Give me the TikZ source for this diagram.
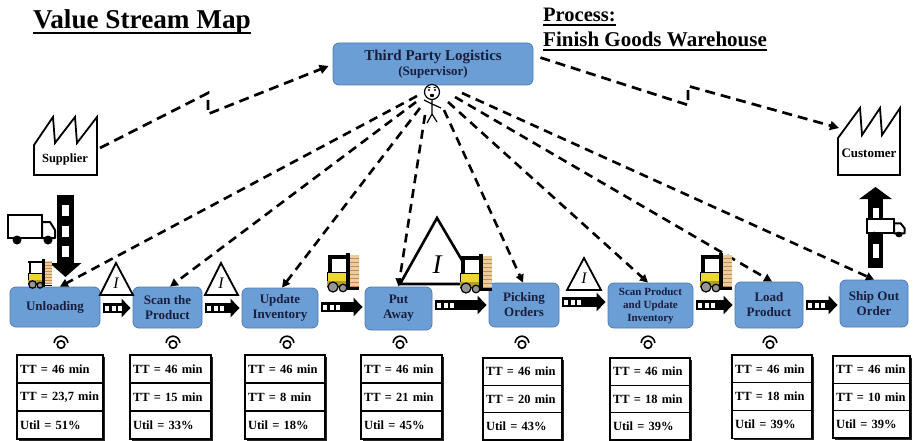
\documentclass[tikz,border=0pt]{standalone}
\usepackage{fontspec}
\setmainfont{Liberation Serif}
\usetikzlibrary{arrows.meta,calc}

\definecolor{procfill}{RGB}{108,158,214}
\definecolor{procedge}{RGB}{80,122,178}
\definecolor{navy}{RGB}{24,30,60}
\definecolor{forkyellow}{RGB}{238,214,48}
\definecolor{palletwood}{RGB}{236,205,160}
\definecolor{palletline}{RGB}{196,140,84}
\definecolor{wheelgray}{RGB}{150,150,150}

\tikzset{
  proc/.style={draw=procedge, line width=0.8pt, fill=procfill, rounded corners=6pt,
    align=center, text=navy, inner sep=0pt, font=\bfseries\fontsize{13}{15}\selectfont},
  info/.style={line width=2.6pt, dash pattern=on 9pt off 6pt,
    -{Triangle[length=8pt,width=8pt]}},
  infolink/.style={line width=2.7pt, dash pattern=on 10pt off 6pt,
    -{Triangle[length=9pt,width=9pt]}},
  pushbody/.style={line width=10pt, -{Triangle[length=9pt,width=18pt]}},
  pushsq/.style={white, line width=5pt, dash pattern=on 4pt off 2.5pt},
  datarow/.style={draw, line width=1.2pt, fill=white, inner xsep=3pt, inner ysep=0pt,
    outer sep=0pt, align=left, font=\bfseries\fontsize{12.5}{14}\selectfont},
  inv/.style={draw, line width=1.8pt, fill=white, line join=miter},
  invmark/.style={inner sep=0pt, font=\itshape\fontsize{16}{16}\selectfont},
  factory/.style={draw, line width=1.8pt, fill=white, line join=miter},
  operator/.style={line width=1.6pt},
  ul/.style={line width=1.6pt},
  forklift/.pic={
    \fill[palletwood] (22,2) rectangle (32,33);
    \foreach \k in {5,9,...,33} \draw[palletline, line width=0.7pt] (22,\k) -- (32,\k);
    \fill[black] (19,0) rectangle (22.5,37);
    \fill[black] (19,34) rectangle (32,36.5);
    \fill[black] (0.5,2) rectangle (20,5.5);
    \fill[black] (1,2) rectangle (4.5,21);
    \fill[white] (4.5,5.5) rectangle (19,19);
    \draw[black, line width=0.8pt, fill=forkyellow] (0,19) rectangle (19,33);
    \fill[forkyellow!75!black] (0.4,28) rectangle (18.6,32.6);
    \draw[line width=1.2pt, fill=wheelgray] (6,34) circle (5pt);
    \draw[line width=1.2pt, fill=wheelgray] (16,35) circle (3.8pt);
  },
  truck/.pic={
    \draw[fill=white, line width=2pt] (0,0) rectangle (34,23);
    \draw[fill=white, line width=2pt, line join=round]
      (34,7) -- (42,7) -- (47,15) -- (47,23) -- (34,23) -- cycle;
    \fill[black] (9,25) circle (4.5pt);
    \fill[black] (40,25) circle (4.5pt);
  },
}

% push arrow between two process boxes: from node #1 to node #2, vertical offset #3
\newcommand\pusharrow[3]{%
  \path ([shift={(3,#3)}]#1.east) coordinate (pa);
  \path (pa -| #2.west) coordinate (pb);
  \draw[pushbody] (pa) -- ([xshift=-2pt]pb);
  \draw[pushsq] ([xshift=2pt]pa) -- ++(17,0);
}

% data box: name, left, top, width, row height, three rows
\newcommand\databox[8]{%
  \fill[black!85] (#2+2.2,#3+2.2) rectangle (#2+#4+2.2,#3+3*#5+2.2);
  \node[datarow, anchor=north west, minimum width=#4pt, minimum height=#5pt,
        text width=#4pt-6pt] (#1a) at (#2,#3) {#6};
  \node[datarow, anchor=north west, minimum width=#4pt, minimum height=#5pt,
        text width=#4pt-6pt] (#1b) at (#1a.south west) {#7};
  \node[datarow, anchor=north west, minimum width=#4pt, minimum height=#5pt,
        text width=#4pt-6pt] (#1c) at (#1b.south west) {#8};
}

\begin{document}
\begin{tikzpicture}[x=1pt,y=-1pt]
\path[use as bounding box, fill=white] (0,0) rectangle (913,441);

% ---- headings ----
\node[anchor=base west, inner sep=0pt, font=\bfseries\fontsize{27.2}{30}\selectfont]
  (title) at (33,29) {Value Stream Map};
\draw[ul] (33,33) -- (title.east |- 0,33);
\node[anchor=base west, inner sep=0pt, font=\bfseries\fontsize{20.5}{24}\selectfont]
  (proclbl) at (543,22) {Process:};
\draw[ul] (543,25) -- (proclbl.east |- 0,25);
\node[anchor=base west, inner sep=0pt, font=\bfseries\fontsize{21}{24}\selectfont]
  (whlbl) at (543,47) {Finish Goods Warehouse};
\draw[ul] (543,50) -- (whlbl.east |- 0,50);

% ---- supervisor ----
\node[proc, minimum width=200pt, minimum height=42pt,
      font=\bfseries\fontsize{15}{15}\selectfont] (sup) at (433,64)
  {Third Party Logistics\\{\fontsize{13}{14}\selectfont (Supervisor)}};

% ---- process boxes ----
\node[proc, minimum width=90pt, minimum height=40pt] (p1) at (55,307) {Unloading};
\node[proc, minimum width=69pt, minimum height=41pt] (p2) at (167.5,307.5) {Scan the\\Product};
\node[proc, minimum width=76pt, minimum height=40pt] (p3) at (280,308) {Update\\Inventory};
\node[proc, minimum width=67pt, minimum height=43pt] (p4) at (398.5,308.5) {Put\\Away};
\node[proc, minimum width=70pt, minimum height=44pt] (p5) at (524,305) {Picking\\Orders};
\node[proc, minimum width=85pt, minimum height=45pt,
      font=\bfseries\fontsize{11}{13}\selectfont] (p6) at (650.5,305.5)
  {Scan Product\\and Update\\Inventory};
\node[proc, minimum width=68pt, minimum height=46pt] (p7) at (769,305) {Load\\Product};
\node[proc, minimum width=68pt, minimum height=47pt] (p8) at (874,303.5) {Ship Out\\Order};

% ---- supplier and customer ----
\draw[factory] (34,175) -- (34,145) -- (53,117) -- (55,143) -- (75,117) -- (77,143)
  -- (97,117) -- (97,175) -- cycle;
\node[inner sep=0pt, font=\bfseries\fontsize{12.5}{14}\selectfont] (supplier) at (65,159) {Supplier};
\coordinate (suproof) at (100,148);

\draw[factory] (838,175) -- (838,138) -- (860,108) -- (862,135) -- (880,108) -- (882,135)
  -- (900,108) -- (900,175) -- cycle;
\node[inner sep=0pt, font=\bfseries\fontsize{13}{14}\selectfont] (customer) at (869,153) {Customer};
\coordinate (custroof) at (839,128);

% ---- electronic information flows ----
\coordinate (bolt1) at (208,93);
\coordinate (bolt2) at (208,114);
\draw[infolink] (suproof) -- (bolt1) -- (bolt2) -- ([shift={(-4,2)}]sup.west);
\coordinate (bolt3) at (688,105);
\coordinate (bolt4) at (688,86);
\draw[infolink] ([shift={(7,15)}]sup.north east) -- (bolt3) -- (bolt4) -- (custroof);

% ---- supervisor instructions to each process ----
\coordinate (s1) at (417,96);
\coordinate (s2) at (416,102);
\coordinate (s3) at (420,108);
\coordinate (s4) at (425,115);
\coordinate (s5) at (444,110);
\coordinate (s6) at (448,102);
\coordinate (s7) at (455,97);
\coordinate (s8) at (462,93);
\draw[info] (s1) -- ([xshift=5pt]p1.north);
\draw[info] (s2) -- ([xshift=2.5pt]p2.north);
\draw[info] (s3) -- ([xshift=2pt]p3.north);
\draw[info] (s4) -- (p4.north);
\draw[info] (s5) -- ([xshift=-1pt]p5.north);
\draw[info] (s6) -- ([xshift=-2.5pt]p6.north);
\draw[info] (s7) -- ([xshift=3pt]p7.north);
\draw[info] (s8) -- (p8.north);

% ---- stick figure ----
\coordinate (fig) at (432,92);
\draw[line width=1.2pt] (432,99) -- (432,114) -- (427,123) (432,114) -- (437,122)
  (432,104) -- (424,100) (432,104) -- (441,108);
\draw[line width=1.2pt, fill=white] (fig) circle (7.5pt);
\fill (429,90) circle (1.1pt);
\fill (435,90) circle (1.1pt);
\fill (432,95.5) ellipse (2.2pt and 1.7pt);
\draw[line width=0.8pt] (427.5,87) -- (430.5,87.8) (433.5,87.8) -- (436.5,87);

% ---- inbound: truck and push arrow into unloading ----
\coordinate (inflowtop) at (65.5,195);
\coordinate (inflowtip) at (65.5,277);
\draw[line width=17pt, -{Triangle[length=14pt,width=31pt]}] (inflowtop) -- (inflowtip);
\draw[white, line width=7pt, dash pattern=on 11pt off 9.5pt] (65.5,205) -- (65.5,258);
\pic at (8,215) {truck};

% ---- outbound: push arrow to customer with truck ----
\coordinate (outflowbot) at (875.5,268);
\coordinate (outflowtip) at (875.5,187);
\draw[line width=15pt, -{Triangle[length=12pt,width=32pt]}] (outflowbot) -- (outflowtip);
\draw[white, line width=6pt, dash pattern=on 14pt off 22pt] (875.5,208) -- (875.5,258);
\begin{scope}[line width=1.5pt]
\pic[xscale=0.8, yscale=0.62] at (867,219) {truck};
\end{scope}

% ---- push arrows between processes ----
\pusharrow{p1}{p2}{1}
\pusharrow{p2}{p3}{0.5}
\pusharrow{p3}{p4}{-1}
\pusharrow{p4}{p5}{-3.5}
\pusharrow{p5}{p6}{-3}
\pusharrow{p6}{p7}{-0.5}
\pusharrow{p7}{p8}{0}

% ---- inventory triangles ----
\draw[inv] (116,263) -- (133,295) -- (100,295) -- cycle;
\node[invmark] (i1) at (116,283) {I};
\draw[inv] (221,263) -- (238,295) -- (205,295) -- cycle;
\node[invmark] (i2) at (221,283) {I};
\draw[inv, line width=2.6pt] (437,218) -- (476,284) -- (400,284) -- cycle;
\node[invmark, font=\itshape\fontsize{27}{27}\selectfont] (i3) at (437,265) {I};
\draw[inv] (584,258) -- (601,290) -- (567,290) -- cycle;
\node[invmark] (i4) at (584,278) {I};

% ---- forklifts ----
\pic[scale=0.75] at (28,259) {forklift};
\pic at (327,253) {forklift};
\pic at (460,254) {forklift};
\pic at (700,253) {forklift};

% ---- operators ----
\foreach \ox in {61,173,287,400,522,648,770} {
  \draw[operator] (\ox,344.5) circle (3.8pt);
  \draw[operator] (\ox,343) ++(180:6.8pt) arc[start angle=180, end angle=0, radius=6.8pt];
}

% ---- data boxes ----
\databox{d1}{17}{355}{86}{28}{TT = 46 min}{TT = 23,7 min}{Util = 51\%}
\databox{d2}{130}{355}{81}{28}{TT = 46 min}{TT = 15 min}{Util = 33\%}
\databox{d3}{245}{355}{80}{28}{TT = 46 min}{TT = 8 min}{Util = 18\%}
\databox{d4}{361}{355}{81}{28}{TT = 46 min}{TT = 21 min}{Util = 45\%}
\databox{d5}{483}{358}{79}{27.3}{TT = 46 min}{TT = 20 min}{Util = 43\%}
\databox{d6}{610}{358}{80}{27.3}{TT = 46 min}{TT = 18 min}{Util = 39\%}
\databox{d7}{732}{355}{80}{27.7}{TT = 46 min}{TT = 18 min}{Util = 39\%}
\databox{d8}{833}{356}{77}{27.3}{TT = 46 min}{TT = 10 min}{Util = 39\%}
\end{tikzpicture}
\end{document}
